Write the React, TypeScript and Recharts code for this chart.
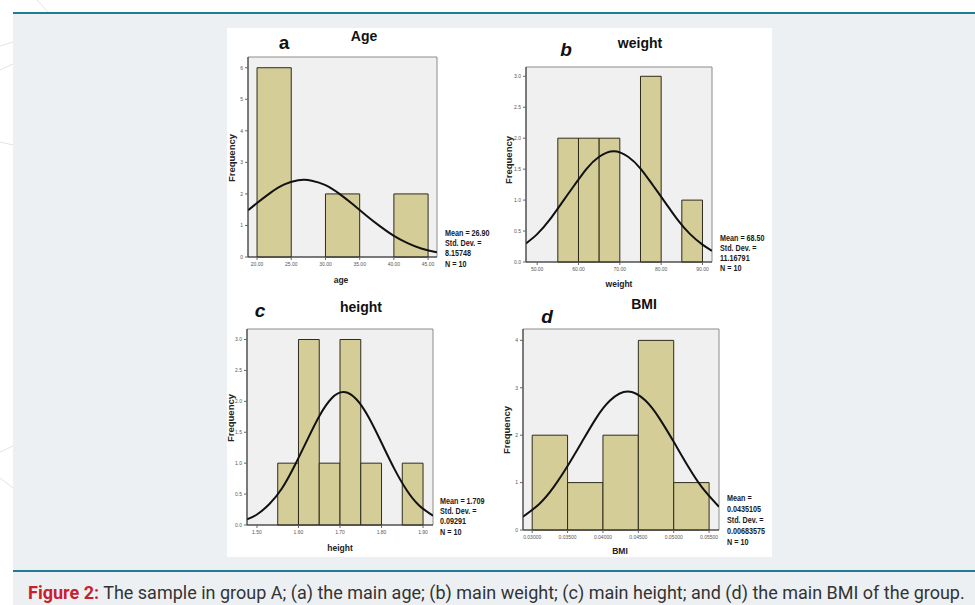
import React from "react";
import { ComposedChart, XAxis, YAxis, Line, ReferenceArea } from "recharts";

// ---- data ----
const ageBins = [20, 25, 30, 35, 40, 45];
const ageCounts = [6, 0, 2, 0, 2];
const ageCurveX = [18.7, 20, 22, 24, 26, 26.9, 28, 30, 32, 34, 36, 38, 40, 42, 44, 46.3];
const ageCurveY = [1.48, 1.71, 2.04, 2.3, 2.43, 2.45, 2.42, 2.28, 2.01, 1.67, 1.31, 0.97, 0.67, 0.44, 0.27, 0.15];
const ageXTicks = [20, 25, 30, 35, 40, 45];
const ageYTicks = [0, 1, 2, 3, 4, 5, 6];
const ageStats = ["Mean = 26.90", "Std. Dev. =", "8.15748", "N = 10"];

const weightBins = [55, 60, 65, 70, 75, 80, 85, 90];
const weightCounts = [2, 2, 2, 0, 3, 0, 1];
const weightCurveX = [47.3, 50, 53, 56, 59, 62, 65, 68.5, 72, 75, 78, 81, 84, 87, 90, 92.3];
const weightCurveY = [0.3, 0.45, 0.68, 0.96, 1.24, 1.51, 1.7, 1.79, 1.7, 1.51, 1.24, 0.96, 0.68, 0.45, 0.28, 0.18];
const weightXTicks = [50, 60, 70, 80, 90];
const weightYTicks = [0, 0.5, 1, 1.5, 2, 2.5, 3];
const weightStats = ["Mean = 68.50", "Std. Dev. =", "11.16791", "N = 10"];

const heightBins = [1.55, 1.6, 1.65, 1.7, 1.75, 1.8, 1.85, 1.9];
const heightCounts = [1, 3, 1, 3, 1, 0, 1];
const heightCurveX = [1.476, 1.5, 1.53, 1.56, 1.59, 1.62, 1.65, 1.68, 1.709, 1.74, 1.77, 1.8, 1.83, 1.86, 1.89, 1.924];
const heightCurveY = [0.09, 0.17, 0.34, 0.59, 0.95, 1.36, 1.76, 2.05, 2.15, 2.03, 1.73, 1.33, 0.92, 0.57, 0.32, 0.15];
const heightXTicks = [1.5, 1.6, 1.7, 1.8, 1.9];
const heightYTicks = [0, 0.5, 1, 1.5, 2, 2.5, 3];
const heightStats = ["Mean = 1.709", "Std. Dev. =", "0.09291", "N = 10"];

const bmiBins = [0.03, 0.035, 0.04, 0.045, 0.05, 0.055];
const bmiCounts = [2, 1, 2, 4, 1];
const bmiCurveX = [0.0287, 0.031, 0.033, 0.035, 0.037, 0.039, 0.041, 0.0435, 0.046, 0.048, 0.05, 0.052, 0.054, 0.0564];
const bmiCurveY = [0.28, 0.55, 0.9, 1.35, 1.85, 2.35, 2.73, 2.92, 2.73, 2.35, 1.86, 1.35, 0.9, 0.49];
const bmiXTicks = [0.03, 0.035, 0.04, 0.045, 0.05, 0.055];
const bmiYTicks = [0, 1, 2, 3, 4];
const bmiStats = ["Mean =", "0.0435105", "Std. Dev. =", "0.00683575", "N = 10"];

const SANS = "'Liberation Sans', Arial, sans-serif";
const BAR_FILL = "#d4cd98";
const BAR_STROKE = "#2e2b1c";

function Histogram(props: any) {
  const { plot, xDomain, yTop, xTicks, yTicks, xFmt, yFmt, bins, counts, curveX, curveY } = props;
  const [L, T, R, B] = plot;
  const padL = 30, padT = 5, padR = 5, padB = 20;
  const data = curveX.map((x: number, i: number) => ({ x, y: curveY[i] }));
  return (
    <div style={{ position: "absolute", left: L - padL, top: T - padT, fontFamily: SANS }}>
      <ComposedChart
        width={R - L + padL + padR}
        height={B - T + padT + padB}
        data={data}
        margin={{ top: padT, right: padR, left: 0, bottom: 0 }}
      >
        <XAxis
          type="number"
          dataKey="x"
          domain={xDomain}
          ticks={xTicks}
          interval={0}
          allowDataOverflow
          tickFormatter={xFmt}
          height={padB}
          tickSize={3}
          axisLine={{ stroke: "#333" }}
          tickLine={{ stroke: "#666" }}
          tick={{ fontSize: 5, fill: "#555" }}
        />
        <YAxis
          type="number"
          domain={[0, yTop]}
          ticks={yTicks}
          interval={0}
          allowDataOverflow
          tickFormatter={yFmt}
          width={padL}
          tickSize={3}
          axisLine={{ stroke: "#333" }}
          tickLine={{ stroke: "#666" }}
          tick={{ fontSize: 5, fill: "#555" }}
        />
        <ReferenceArea x1={xDomain[0]} x2={xDomain[1]} y1={0} y2={yTop} fill="#f0f0f0" fillOpacity={1} stroke="#8c8c8c" />
        {counts.map((c: number, i: number) =>
          c > 0 ? (
            <ReferenceArea
              key={i}
              x1={bins[i]}
              x2={bins[i + 1]}
              y1={0}
              y2={c}
              fill={BAR_FILL}
              fillOpacity={1}
              stroke={BAR_STROKE}
              strokeWidth={1}
            />
          ) : null
        )}
        <Line dataKey="y" type="natural" stroke="#111" strokeWidth={2} dot={false} activeDot={false} isAnimationActive={false} />
      </ComposedChart>
    </div>
  );
}

function Txt({ x, y, children, style }: any) {
  return (
    <div style={{ position: "absolute", left: x, top: y, transform: "translate(-50%, -50%)", whiteSpace: "nowrap", ...style }}>
      {children}
    </div>
  );
}

// SPSS stats block, condensed bold text
function Stats({ x, y, lines, lh }: any) {
  return (
    <div
      style={{
        position: "absolute",
        left: x,
        top: y - lh / 2,
        fontFamily: SANS,
        fontWeight: 700,
        fontSize: 9,
        lineHeight: lh + "px",
        color: "#1a1a1a",
        whiteSpace: "nowrap",
        transform: "scaleX(0.8)",
        transformOrigin: "left top",
      }}
    >
      {lines.map((l: string) => (
        <div key={l}>{l}</div>
      ))}
    </div>
  );
}

const titleStyle = { fontFamily: SANS, fontWeight: 700, fontSize: 14, color: "#111" };
const letterStyle = { fontFamily: SANS, fontWeight: 700, fontSize: 19, color: "#111" };
const letterItalic = { ...letterStyle, fontStyle: "italic" };
const axisNameStyle = { fontFamily: SANS, fontWeight: 700, fontSize: 8.5, color: "#222" };
const freqStyle = { fontFamily: SANS, fontWeight: 700, fontSize: 9.5, color: "#222", transform: "translate(-50%, -50%) rotate(-90deg)" };

const fix = (d: number) => (v: number) => v.toFixed(d);

export default function App() {
  return (
    <div style={{ position: "absolute", left: 0, top: 0, width: 975, height: 605, background: "#fff", overflow: "hidden" }}>
      <svg width={975} height={605} style={{ position: "absolute", left: 0, top: 0 }}>
        <g stroke="#e3e3e3" strokeWidth={1} fill="none">
          <path d="M0 46 L13 42" />
          <path d="M0 70 L13 64" />
          <path d="M0 142 L13 145" />
          <path d="M37 0 L48 12" />
          <path d="M0 452 L13 446" />
          <path d="M0 478 L13 488" />
        </g>
      </svg>
      {/* panel */}
      <div style={{ position: "absolute", left: 13, top: 14, width: 962, height: 591, background: "#edf0f3" }} />
      <div style={{ position: "absolute", left: 13, top: 12, width: 962, height: 2, background: "#1f7d92" }} />
      <div style={{ position: "absolute", left: 13, top: 570, width: 962, height: 2, background: "#1f7d92" }} />
      {/* figure image area */}
      <div style={{ position: "absolute", left: 227, top: 28, width: 545, height: 529, background: "#fff" }} />

      <Histogram
        plot={[248, 57, 437, 257]}
        xDomain={[18.68, 46.3]}
        yTop={6.34}
        xTicks={ageXTicks}
        yTicks={ageYTicks}
        xFmt={fix(2)}
        yFmt={fix(0)}
        bins={ageBins}
        counts={ageCounts}
        curveX={ageCurveX}
        curveY={ageCurveY}
      />
      <Histogram
        plot={[526, 67, 712, 262]}
        xDomain={[47.3, 92.3]}
        yTop={3.15}
        xTicks={weightXTicks}
        yTicks={weightYTicks}
        xFmt={fix(2)}
        yFmt={fix(1)}
        bins={weightBins}
        counts={weightCounts}
        curveX={weightCurveX}
        curveY={weightCurveY}
      />
      <Histogram
        plot={[247, 329, 433, 525]}
        xDomain={[1.476, 1.924]}
        yTop={3.17}
        xTicks={heightXTicks}
        yTicks={heightYTicks}
        xFmt={fix(2)}
        yFmt={fix(1)}
        bins={heightBins}
        counts={heightCounts}
        curveX={heightCurveX}
        curveY={heightCurveY}
      />
      <Histogram
        plot={[523, 329, 719, 530]}
        xDomain={[0.0287, 0.0564]}
        yTop={4.24}
        xTicks={bmiXTicks}
        yTicks={bmiYTicks}
        xFmt={fix(5)}
        yFmt={fix(0)}
        bins={bmiBins}
        counts={bmiCounts}
        curveX={bmiCurveX}
        curveY={bmiCurveY}
      />

      {/* titles and panel letters */}
      <Txt x={364} y={36} style={titleStyle}>Age</Txt>
      <Txt x={640} y={43} style={titleStyle}>weight</Txt>
      <Txt x={361} y={307} style={titleStyle}>height</Txt>
      <Txt x={644} y={304} style={titleStyle}>BMI</Txt>
      <Txt x={284} y={43} style={letterStyle}>a</Txt>
      <Txt x={566} y={50} style={letterItalic}>b</Txt>
      <Txt x={260} y={311} style={letterItalic}>c</Txt>
      <Txt x={547} y={317} style={letterItalic}>d</Txt>

      {/* axis names */}
      <Txt x={341} y={280} style={axisNameStyle}>age</Txt>
      <Txt x={619} y={284} style={axisNameStyle}>weight</Txt>
      <Txt x={340} y={548} style={axisNameStyle}>height</Txt>
      <Txt x={620} y={551} style={axisNameStyle}>BMI</Txt>
      <Txt x={231} y={158} style={freqStyle}>Frequency</Txt>
      <Txt x={508} y={160} style={freqStyle}>Frequency</Txt>
      <Txt x={230} y={418} style={freqStyle}>Frequency</Txt>
      <Txt x={506} y={430} style={freqStyle}>Frequency</Txt>

      {/* stats boxes */}
      <Stats x={445} y={233} lines={ageStats} lh={10.2} />
      <Stats x={720} y={238} lines={weightStats} lh={10} />
      <Stats x={440} y={501} lines={heightStats} lh={10.3} />
      <Stats x={727} y={498} lines={bmiStats} lh={11} />

      {/* caption */}
      <div style={{ position: "absolute", left: 28, top: 582, fontFamily: "Roboto, sans-serif", fontSize: 18, color: "#333", whiteSpace: "nowrap" }}>
        <span style={{ color: "#c8202f", fontWeight: 700 }}>Figure 2:</span> The sample in group A; (a) the main age; (b) main weight; (c) main height; and (d) the main BMI of the group.
      </div>
    </div>
  );
}
